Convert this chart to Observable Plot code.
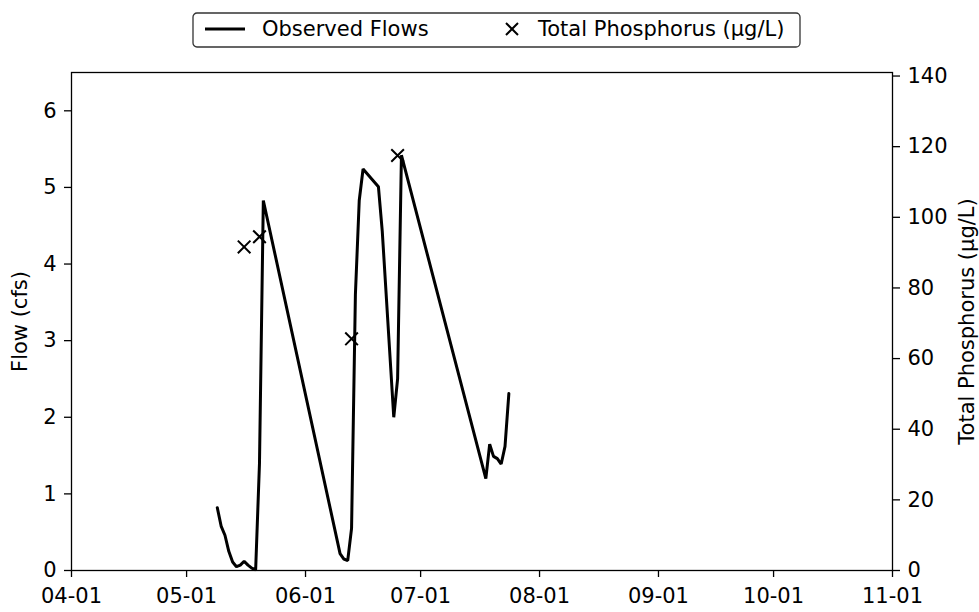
<!DOCTYPE html>
<html>
<head>
<meta charset="utf-8">
<script src="https://cdn.jsdelivr.net/npm/d3@7"></script>
<script src="https://cdn.jsdelivr.net/npm/@observablehq/plot@0.6"></script>
<style>
  html, body { margin: 0; padding: 0; background: white; }
  #wrap { position: relative; width: 979px; height: 612px; font-family: "DejaVu Sans", sans-serif; }
  #legend { position: absolute; left: 192px; top: 12px; }
</style>
</head>
<body>
<div id="wrap"></div>
<script>
// ---- data ----
const flowDates = [
  "2023-05-09","2023-05-10","2023-05-11","2023-05-12","2023-05-13","2023-05-14","2023-05-15",
  "2023-05-16","2023-05-17","2023-05-18","2023-05-19","2023-05-20","2023-05-21",
  "2023-06-10","2023-06-11","2023-06-12","2023-06-13","2023-06-14","2023-06-15","2023-06-16",
  "2023-06-20","2023-06-21","2023-06-24","2023-06-25","2023-06-26",
  "2023-07-18","2023-07-19","2023-07-20","2023-07-21","2023-07-22","2023-07-23","2023-07-24"
];
const flowValues = [
  0.82, 0.58, 0.46, 0.25, 0.11, 0.05, 0.07,
  0.12, 0.07, 0.03, 0.01, 1.40, 4.83,
  0.22, 0.15, 0.13, 0.55, 3.60, 4.83, 5.24,
  5.01, 4.43, 2.00, 2.50, 5.42,
  1.20, 1.65, 1.49, 1.46, 1.39, 1.62, 2.31
];
const tpDates = ["2023-05-16","2023-05-20","2023-06-13","2023-06-25"];
const tpValues = [91.6, 94.5, 65.6, 117.5];

const xTickLabels = ["04-01","05-01","06-01","07-01","08-01","09-01","10-01","11-01"];
const leftTicks = [0, 1, 2, 3, 4, 5, 6];
const rightTicks = [0, 20, 40, 60, 80, 100, 120, 140];
const flowDomain = [0, 6.5];
const tpDomain = [0, 141];

// ---- build ----
const parse = d3.utcParse("%Y-%m-%d");
const flow = flowDates.map((d, i) => ({date: parse(d), flow: flowValues[i]}));
const tp = tpDates.map((d, i) => ({date: parse(d), tp: tpValues[i]}));
const k = flowDomain[1] / tpDomain[1];
const xTicks = xTickLabels.map(s => parse("2023-" + s));

const chart = Plot.plot({
  width: 979,
  height: 612,
  marginTop: 72,
  marginBottom: 42,
  marginLeft: 71,
  marginRight: 87,
  style: {fontFamily: "DejaVu Sans", fontSize: "21px", color: "black", background: "white", overflow: "visible"},
  x: {type: "utc", domain: [xTicks[0], xTicks[xTicks.length - 1]]},
  y: {domain: flowDomain},
  marks: [
    Plot.axisX(xTicks, {tickFormat: d3.utcFormat("%m-%d"), tickSize: 7, tickPadding: 11, label: null, stroke: "black", strokeWidth: 1.3}),
    Plot.axisY(leftTicks, {anchor: "left", tickSize: 7, tickPadding: 8, tickFormat: d => String(d), stroke: "black", strokeWidth: 1.3,
      label: "Flow (cfs)", labelAnchor: "center", labelArrow: "none", labelOffset: 59}),
    Plot.axisY(rightTicks.map(v => v * k), {anchor: "right", tickSize: 7, tickPadding: 8, stroke: "black", strokeWidth: 1.3,
      tickFormat: d => String(Math.round(d / k)),
      label: "Total Phosphorus (µg/L)", labelAnchor: "center", labelArrow: "none", labelOffset: 81}),
    Plot.line(flow, {x: "date", y: "flow", stroke: "black", strokeWidth: 3, strokeLinejoin: "miter"}),
    Plot.dot(tp, {x: "date", y: d => d.tp * k, symbol: "times", r: 5.8, stroke: "black", strokeWidth: 2}),
    Plot.frame({stroke: "black", strokeWidth: 1.3})
  ]
});
document.getElementById("wrap").appendChild(chart);

// ---- legend ----
const leg = d3.select("#wrap").append("svg")
  .attr("id", "legend").attr("width", 612).attr("height", 38);
leg.append("rect").attr("x", 1).attr("y", 1).attr("width", 607).attr("height", 34)
  .attr("rx", 4).attr("fill", "white").attr("stroke", "#333").attr("stroke-width", 1.3);
leg.append("line").attr("x1", 13).attr("x2", 53).attr("y1", 17).attr("y2", 17)
  .attr("stroke", "black").attr("stroke-width", 3);
leg.append("text").attr("x", 70).attr("y", 17).attr("dy", "0.35em")
  .attr("font-family", "DejaVu Sans").attr("font-size", 21).text("Observed Flows");
leg.append("path").attr("d", "M314,11L326,23M314,23L326,11")
  .attr("stroke", "black").attr("stroke-width", 2).attr("fill", "none");
leg.append("text").attr("x", 346).attr("y", 17).attr("dy", "0.35em")
  .attr("font-family", "DejaVu Sans").attr("font-size", 21).text("Total Phosphorus (µg/L)");
</script>
</body>
</html>
